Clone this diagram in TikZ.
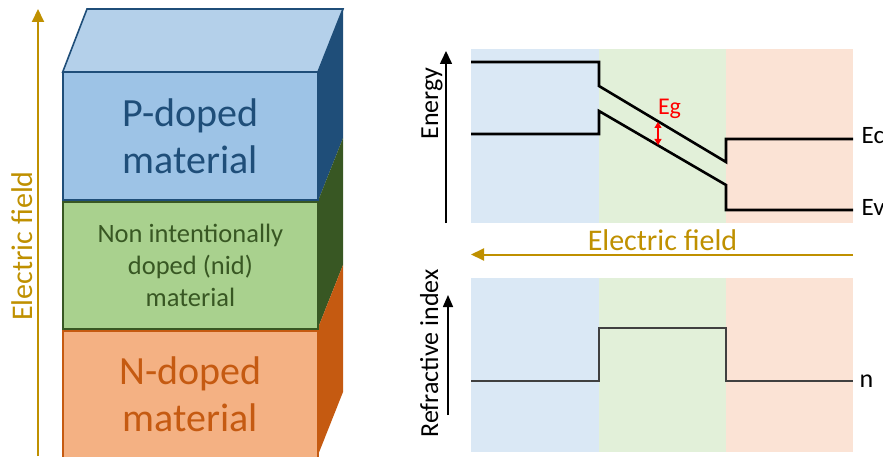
\documentclass[tikz,border=0pt]{standalone}
\usepackage{fontspec}
\setmainfont{Carlito}
\usetikzlibrary{arrows.meta, positioning, calc}
\definecolor{ptop}{RGB}{180, 208, 234}
\definecolor{pfront}{RGB}{157, 195, 230}
\definecolor{pdark}{RGB}{31, 78, 121}
\definecolor{nidfront}{RGB}{169, 209, 142}
\definecolor{niddark}{RGB}{56, 87, 35}
\definecolor{nfront}{RGB}{244, 177, 131}
\definecolor{ndark}{RGB}{197, 90, 17}
\definecolor{fieldgold}{RGB}{191, 144, 0}
\definecolor{bgblue}{RGB}{218, 232, 245}
\definecolor{bggreen}{RGB}{226, 240, 217}
\definecolor{bgorange}{RGB}{251, 227, 213}

\begin{document}
\begin{tikzpicture}[x=1pt, y=-1pt,
  layer/.style={draw, line width=1.6pt, minimum width=255pt, minimum height=127.5pt, align=center, inner sep=0pt},
  band/.style={line width=2.6pt, line join=miter},
  axisarrow/.style={line width=1.6pt, -{Triangle[width=12pt, length=13pt]}},
  fieldarrow/.style={draw=fieldgold, line width=2pt, -{Triangle[width=12pt, length=13pt]}},
  axislabel/.style={rotate=90, anchor=base, font=\fontsize{26}{30}\selectfont}]
  \useasboundingbox (0,0) rectangle (883,457);

  % block: top and side faces
  \filldraw[fill=ptop, draw=pdark, line width=1.6pt] (62.7,72) -- (87,9) -- (343,9) -- (318,72) -- cycle;
  \fill[pdark] (318,72) -- (343,9) -- (343,138) -- (318,201) -- cycle;
  \fill[niddark] (318,201) -- (343,138) -- (343,265) -- (318,328) -- cycle;
  \fill[ndark] (318,328) -- (343,265) -- (343,392) -- (318,455) -- cycle;

  % block: front faces
  \node[layer, fill=pfront, draw=pdark, text=pdark, font=\fontsize{40}{47}\selectfont] (pface) at (190.4,136.4) {P-doped\\material};
  \node[layer, fill=nidfront, draw=niddark, text=niddark, font=\fontsize{26.5}{32}\selectfont, below=0pt of pface] (nidface) {Non intentionally\\doped (nid)\\material};
  \node[layer, fill=nfront, draw=ndark, text=ndark, font=\fontsize{40}{47}\selectfont, below=0pt of nidface] (nface) {N-doped\\material};

  % field along the block
  \coordinate (fbot) at (38,456);
  \coordinate (ftop) at (38,9);
  \draw[fieldarrow] (fbot) -- (ftop);
  \node[rotate=90, anchor=base, text=fieldgold, font=\fontsize{30}{36}\selectfont] (flabel) at (32.3,246) {Electric field};

  % region backgrounds
  \foreach \ytop/\ybot in {49/223, 278/452} {
    \fill[bgblue] (471,\ytop) rectangle (599,\ybot);
    \fill[bggreen] (599,\ytop) rectangle (726,\ybot);
    \fill[bgorange] (726,\ytop) rectangle (853,\ybot);
  }

  % energy bands
  \coordinate (ebot) at (446,223);
  \coordinate (etop) at (446,51);
  \draw[axisarrow] (ebot) -- (etop);
  \node[axislabel] (elabel) at (438,103.5) {Energy};
  \draw[band] (471,62) -- (599,62) -- (599,86) -- (726,162) -- (726,139) -- (853,139);
  \draw[band] (471,134) -- (599,134) -- (599,111) -- (726,185) -- (726,210) -- (853,210);
  \node[anchor=base west, inner sep=0pt, font=\fontsize{25}{30}\selectfont] (ec) at (861.5,144) {Ec};
  \node[anchor=base west, inner sep=0pt, font=\fontsize{25}{30}\selectfont] (ev) at (861.5,215) {Ev};
  \coordinate (egtop) at (658,122);
  \coordinate (egbot) at (658,145);
  \draw[red, line width=1.2pt, {Triangle[width=7pt, length=6pt]}-{Triangle[width=7pt, length=6pt]}] (egtop) -- (egbot);
  \node[anchor=base, inner sep=0pt, text=red, font=\fontsize{24}{28}\selectfont] (eg) at (669.5,114.5) {Eg};

  % field across the bands
  \coordinate (hright) at (853,254.5);
  \coordinate (hleft) at (471,254.5);
  \draw[fieldarrow] (hright) -- (hleft);
  \node[anchor=base, inner sep=0pt, text=fieldgold, font=\fontsize{30}{36}\selectfont] (hlabel) at (662.5,250) {Electric field};

  % refractive index
  \coordinate (rbot) at (448,415);
  \coordinate (rtop) at (448,295);
  \draw[line width=1.6pt, -{Triangle[width=10pt, length=12pt]}] (rbot) -- (rtop);
  \node[axislabel] (rlabel) at (438,353.5) {Refractive index};
  \draw[line width=1.8pt, black!75] (471,381) -- (599,381) -- (599,328) -- (726,328) -- (726,381) -- (853,381);
  \node[anchor=base west, inner sep=0pt, font=\fontsize{26}{30}\selectfont] (nlabel) at (859.3,387.3) {n};
\end{tikzpicture}
\end{document}
